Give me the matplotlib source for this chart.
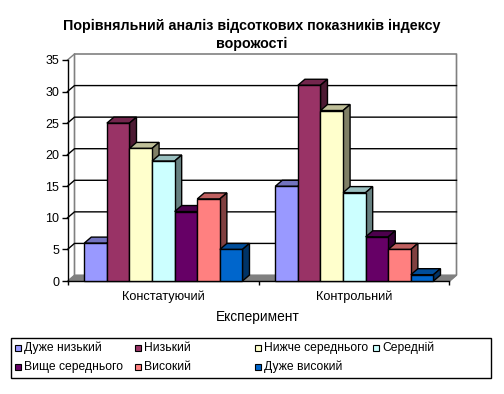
import matplotlib
matplotlib.use('Agg')
import matplotlib.pyplot as plt
import matplotlib.patches as patches
import numpy as np

W, H = 504, 394

categories = ['Констатуючий', 'Контрольний']
series_names = ['Дуже низький', 'Низький', 'Нижче середнього', 'Середній',
                'Вище середнього', 'Високий', 'Дуже високий']
series_values = [
    [6, 15],
    [25, 31],
    [21, 27],
    [19, 14],
    [11, 7],
    [13, 5],
    [5, 1],
]
colors = ['#9999FF', '#993366', '#FFFFCC', '#CCFFFF', '#660066', '#FF8080', '#0066CC']
top_colors = ['#7373BF', '#73264D', '#BFBF99', '#99BFBF', '#4D004D', '#BF6060', '#004D99']
side_colors = ['#4D4D80', '#4D1A33', '#808066', '#668080', '#330033', '#804040', '#003366']
y_ticks = [0, 5, 10, 15, 20, 25, 30, 35]

plt.rcParams['font.family'] = ['Liberation Sans', 'DejaVu Sans']

fig = plt.figure(figsize=(W / 100, H / 100), dpi=100, facecolor='white')

# передня площина осей у пікселях
left, right, top, bottom = 67.5, 449.5, 60.0, 281.0
ax = fig.add_axes([left / W, 1 - bottom / H, (right - left) / W, (bottom - top) / H])
ax.set_xlim(0, 2)
ax.set_ylim(0, 35)
ax.patch.set_visible(False)
for s in ['top', 'right']:
    ax.spines[s].set_visible(False)
for s in ['left', 'bottom']:
    ax.spines[s].set_linewidth(1.0)
    ax.spines[s].set_color('black')

# глибина 3D
dx = 7.0 / (right - left) * 2
dy = 6.0 / (bottom - top) * 35

# підлога і стіни
ax.add_patch(patches.Polygon([(0, 0), (2, 0), (2 + dx, dy), (dx, dy)], closed=True,
                             facecolor='#808080', edgecolor='#808080', lw=0.8,
                             zorder=1, clip_on=False))
ax.plot([dx, dx, 2 + dx, 2 + dx, 2], [dy, 35 + dy, 35 + dy, dy, 0], color='#808080',
        lw=1.2, zorder=1.5, clip_on=False)
ax.plot([0, dx], [35, 35 + dy], color='#808080', lw=1.0, zorder=1.5, clip_on=False)

# сітка
for v in y_ticks[1:-1]:
    ax.plot([0, dx, 2 + dx], [v, v + dy, v + dy], color='black', lw=1.0, zorder=2, clip_on=False)

# стовпчики
n = len(series_values)
bar_w = 22.6 / (right - left) * 2
group_start = 0.5 - n * bar_w / 2 + 0.002
for i, vals in enumerate(series_values):
    xs = np.arange(len(categories)) + group_start + i * bar_w
    base_z = 3 + i
    ax.bar(xs, vals, width=bar_w, align='edge', color=colors[i], edgecolor='black',
           lw=1.0, zorder=base_z + 0.5, clip_on=False)
    for x0, v in zip(xs, vals):
        x1 = x0 + bar_w
        ax.add_patch(patches.Polygon([(x0, v), (x1, v), (x1 + dx, v + dy), (x0 + dx, v + dy)],
                                     closed=True, facecolor=top_colors[i], edgecolor='black',
                                     lw=1.0, zorder=base_z, clip_on=False))
        ax.add_patch(patches.Polygon([(x1, 0), (x1 + dx, dy), (x1 + dx, v + dy), (x1, v)],
                                     closed=True, facecolor=side_colors[i], edgecolor='black',
                                     lw=1.0, zorder=base_z, clip_on=False))

# осі
ax.set_yticks(y_ticks)
ax.set_xticks([0, 1, 2])
ax.set_xticklabels([])
ax.tick_params(axis='y', length=4, width=1.0, pad=2, labelsize=9.0, color='black')
ax.tick_params(axis='x', length=3, width=1.0)
for x, c in zip([0.5, 1.5], categories):
    ax.text(x, -1.5, c, ha='center', va='top', fontsize=9.2, color='black')


def fx(px):
    return px / W


def fy(py):
    return 1 - py / H


# заголовок
fig.text(fx(252), fy(26), 'Порівняльний аналіз відсоткових показників індексу', ha='center',
         va='center', fontsize=10.3, fontweight='bold')
fig.text(fx(252), fy(44), 'ворожості', ha='center', va='center', fontsize=10.3, fontweight='bold')
fig.text(fx(258), fy(317), 'Експеримент', ha='center', va='center', fontsize=9.9)

# легенда
fig.add_artist(patches.Rectangle((fx(10.5), fy(378)), 480 / W, 40 / H, transform=fig.transFigure,
                                 facecolor='white', edgecolor='black', lw=1.0))
legend_x = [15, 135, 255, 373, 15, 135, 255]
legend_y = [348, 348, 348, 348, 367, 367, 367]
for name, c, lx, ly in zip(series_names, colors, legend_x, legend_y):
    fig.add_artist(patches.Rectangle((fx(lx), fy(ly + 3)), 6 / W, 6 / H, transform=fig.transFigure,
                                     facecolor=c, edgecolor='black', lw=0.8))
    fig.text(fx(lx + 9), fy(ly), name, ha='left', va='center', fontsize=8.7)

fig.savefig('out.png', dpi=100)
